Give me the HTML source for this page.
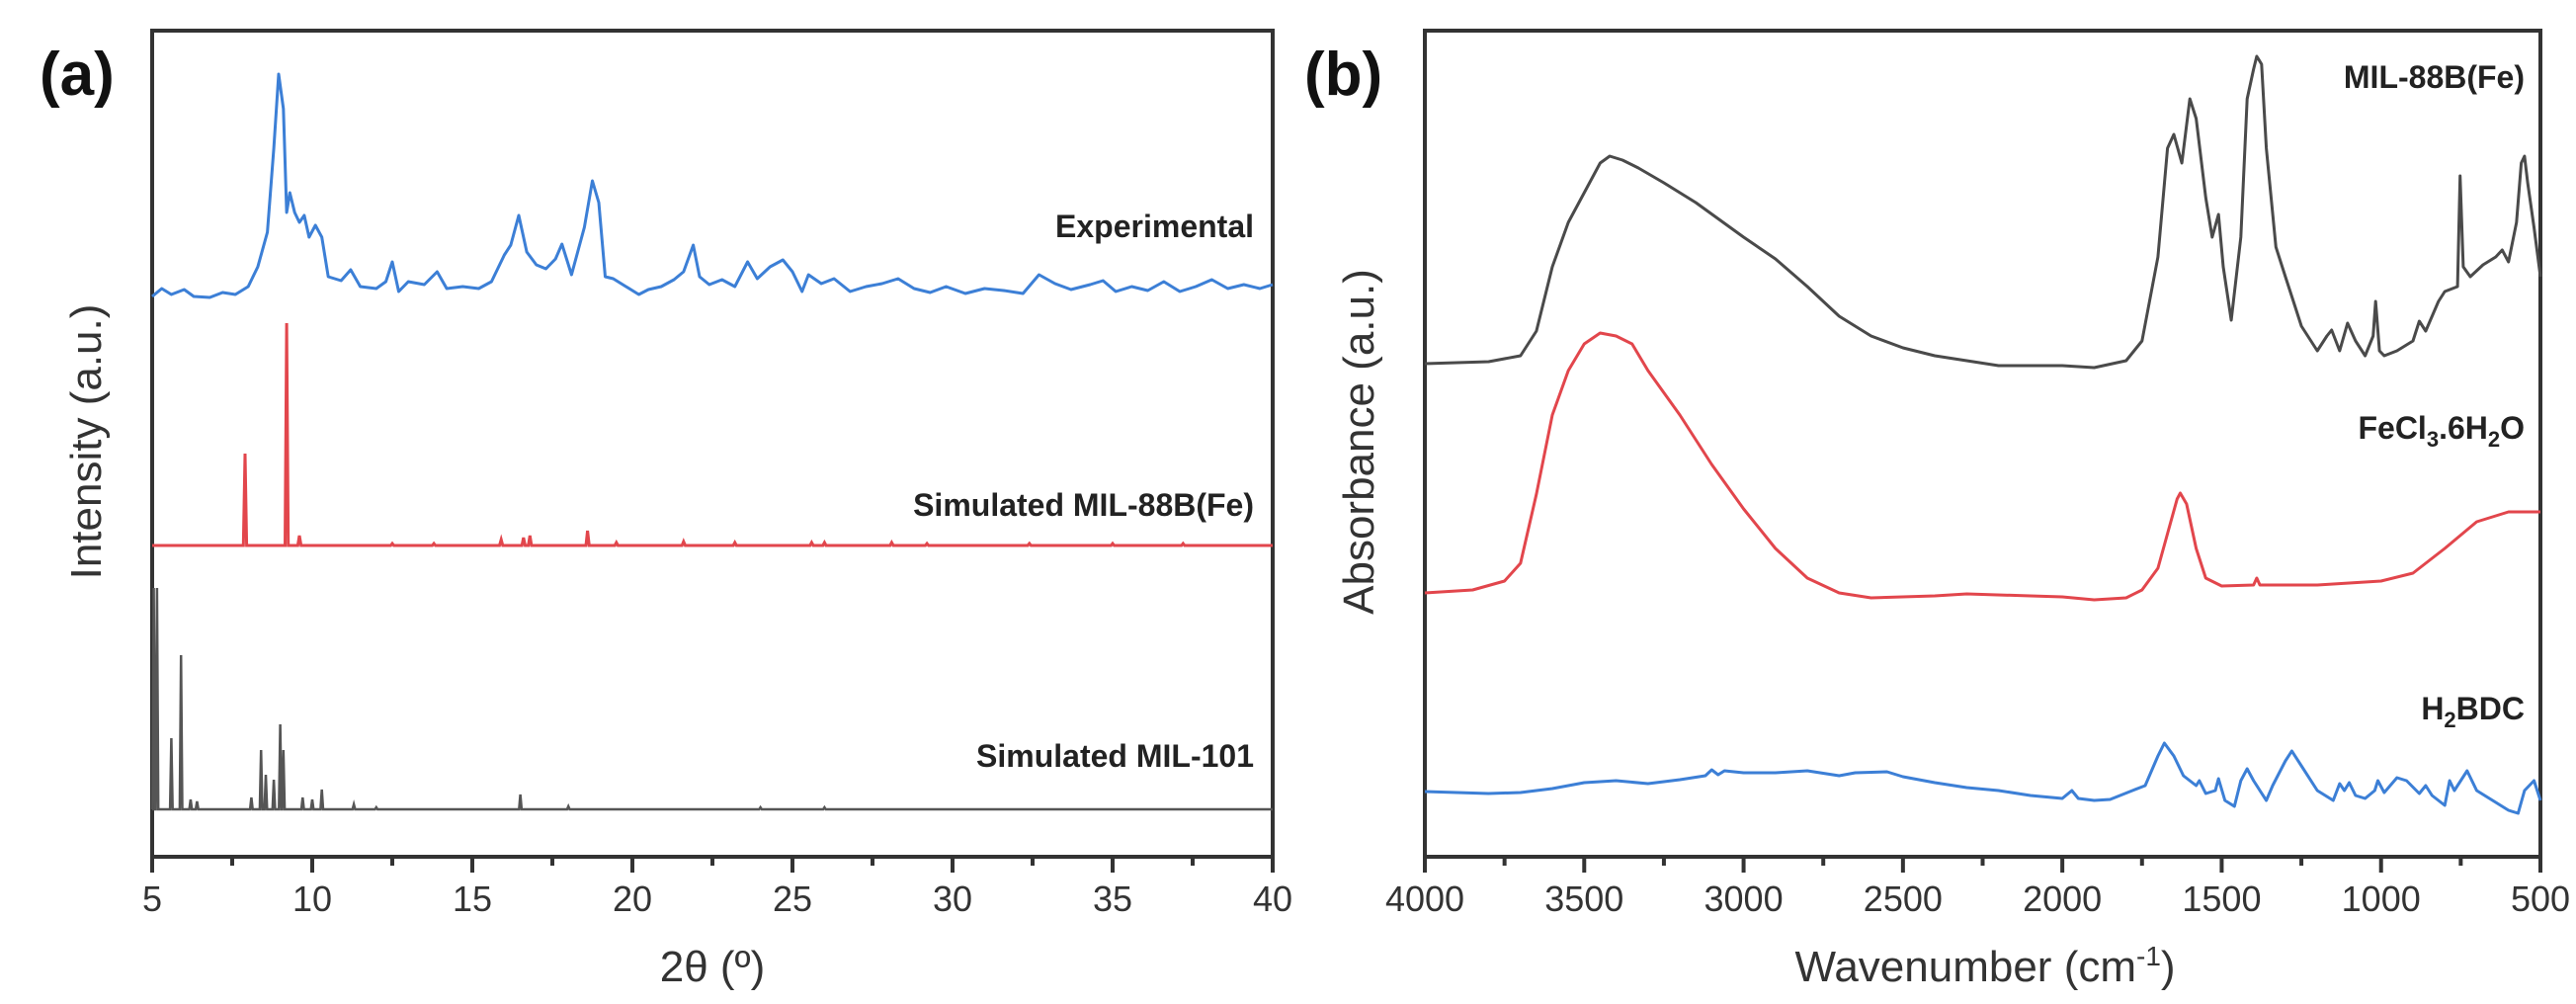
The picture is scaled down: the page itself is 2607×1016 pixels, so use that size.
<!DOCTYPE html>
<html><head><meta charset="utf-8"><style>
html,body{margin:0;padding:0;background:#fff;}
svg{display:block;}
text{font-family:"Liberation Sans",sans-serif;fill:#222;}
.lbl{font-family:"Liberation Sans Narrow","Liberation Sans",sans-serif;font-weight:bold;font-size:32px;}
.tick{font-size:36px;fill:#333;}
.ttl{font-size:44px;fill:#333;}
.pan{font-weight:bold;font-size:62px;fill:#111;}
</style></head><body>
<svg id="fig" width="2607" height="1016" viewBox="0 0 2607 1016" xmlns="http://www.w3.org/2000/svg">
<g id="pa"></g>
<g id="pb"></g>
</svg>
<script>
// ---- Panel (a) XRD data (x: 2theta deg, y: intensity a.u.) ----
const xrdTicks = [5,10,15,20,25,30,35,40];
const expX = [5.0,5.3,5.6,6.0,6.3,6.8,7.2,7.6,8.0,8.3,8.6,8.8,8.95,9.1,9.2,9.3,9.45,9.6,9.75,9.9,10.1,10.3,10.5,10.9,11.2,11.5,12.0,12.3,12.5,12.7,13.0,13.5,13.9,14.2,14.7,15.2,15.6,16.0,16.2,16.45,16.7,17.0,17.3,17.6,17.8,18.1,18.5,18.75,18.95,19.15,19.4,19.8,20.2,20.5,20.9,21.3,21.6,21.9,22.1,22.4,22.8,23.2,23.6,23.9,24.3,24.7,25.0,25.3,25.5,25.9,26.3,26.8,27.3,27.8,28.3,28.8,29.3,29.8,30.4,31.0,31.6,32.2,32.7,33.2,33.7,34.3,34.7,35.1,35.6,36.1,36.6,37.1,37.6,38.1,38.6,39.1,39.6,40.0];
const expY = [567,575,569,574,567,566,571,569,577,597,632,717,792,757,652,672,652,642,649,627,639,627,587,583,594,577,575,582,602,572,582,579,592,575,577,575,582,609,619,649,612,599,595,605,620,589,637,684,662,587,585,577,569,574,577,584,592,619,587,579,584,577,602,585,597,604,592,572,589,580,585,572,577,580,585,575,571,577,570,575,573,570,589,580,574,579,583,572,577,573,582,572,577,584,575,579,575,579];
const m88X = [7.9,9.2,9.6,12.5,13.8,15.9,16.6,16.8,18.6,19.5,21.6,23.2,25.6,26.0,28.1,29.2,32.4,35.0,37.2];
const m88Y = [93,225,10,2,2,6,8,10,15,3,4,3,3,3,3,2,2,2,2];
const m101X = [5.05,5.15,5.6,5.9,6.2,6.4,8.1,8.4,8.55,8.8,9.0,9.1,9.7,10.0,10.3,11.3,12.0,16.5,18.0,24.0,26.0];
const m101Y = [224,224,72,156,10,8,12,60,35,30,86,60,12,10,20,5,2,15,3,2,2];
// ---- Panel (b) FTIR data (x: wavenumber cm-1, y: absorbance a.u.) ----
const irTicks = [4000,3500,3000,2500,2000,1500,1000,500];
const milX = [4000,3800,3700,3650,3600,3550,3500,3450,3420,3380,3330,3250,3150,3000,2900,2800,2700,2600,2500,2400,2300,2200,2000,1900,1800,1750,1700,1670,1650,1625,1600,1580,1550,1530,1510,1495,1470,1440,1420,1400,1390,1375,1360,1330,1300,1280,1250,1200,1170,1155,1130,1105,1080,1050,1025,1017,1005,990,950,900,880,860,820,800,760,752,742,720,680,640,620,600,575,560,550,540,520,500];
const milY = [499,501,507,532,597,642,672,702,709,705,697,682,662,627,605,577,547,527,515,507,502,497,497,495,502,522,607,717,731,702,767,747,667,627,650,597,543,627,767,797,810,802,717,617,587,567,537,512,527,533,512,540,522,507,527,562,512,507,512,522,542,532,562,572,577,689,597,587,599,607,614,602,642,702,709,682,637,587];
const fecX = [4000,3850,3750,3700,3650,3600,3550,3500,3450,3400,3350,3300,3200,3100,3000,2900,2800,2700,2600,2400,2300,2100,2000,1900,1800,1750,1700,1670,1640,1630,1610,1580,1550,1500,1400,1390,1380,1200,1000,900,800,700,600,500];
const fecY = [267,270,279,297,367,447,492,519,530,527,519,492,447,397,352,312,282,267,262,264,266,264,263,260,262,270,292,327,362,368,357,312,282,274,275,282,275,275,279,287,312,339,349,349];
const bdcX = [4000,3800,3700,3600,3500,3400,3300,3200,3120,3100,3080,3060,3000,2900,2800,2700,2650,2550,2500,2400,2300,2200,2100,2000,1970,1950,1900,1850,1780,1740,1700,1680,1650,1620,1580,1570,1550,1520,1510,1490,1460,1440,1420,1400,1380,1360,1340,1300,1280,1250,1200,1150,1130,1115,1100,1080,1050,1020,1010,990,950,920,880,860,840,800,785,770,730,700,660,600,570,550,520,500];
const bdcY = [66,64,65,69,75,77,74,78,82,88,83,87,85,85,87,82,85,86,81,75,70,67,62,59,67,59,57,58,67,72,102,115,102,82,72,77,64,67,79,57,51,77,89,77,67,57,72,97,107,92,67,57,74,67,75,62,59,67,77,65,80,77,64,72,62,52,77,67,87,67,59,47,44,67,77,57];

const NS='http://www.w3.org/2000/svg';
function mk(parent, tag, attrs, txt){
  const e=document.createElementNS(NS,tag);
  for(const k in attrs) e.setAttribute(k,attrs[k]);
  if(txt!==undefined) e.textContent=txt;
  parent.appendChild(e); return e;
}
const TOP=31, BOT=867;
function yS(v){ return BOT - v; }
function linePath(xs, ys, xS){ return xs.map((x,i)=>(i?'L':'M')+xS(x).toFixed(1)+' '+yS(ys[i]).toFixed(1)).join(' '); }
function stickPath(xs, hs, base, xS, w){
  let d='M'+xS(5)+' '+yS(base);
  xs.forEach((x,i)=>{ d+=' L'+xS(x-w).toFixed(1)+' '+yS(base)+' L'+xS(x).toFixed(1)+' '+yS(base+hs[i]).toFixed(1)+' L'+xS(x+w).toFixed(1)+' '+yS(base); });
  d+=' L'+xS(40)+' '+yS(base); return d;
}
function frame(g, L, R){
  const f=mk(g,'rect',{x:L,y:TOP,width:R-L,height:BOT-TOP,fill:'none',stroke:'#333','stroke-width':4});
  
  
}

// Panel a
const ga=document.getElementById('pa');
const aL=154, aR=1288;
const xA = v => aL + (v-5)/35*(aR-aL);
frame(ga,aL,aR);
const axA=mk(ga,'g',{});


for(let v=5; v<=40; v+=2.5){
  const maj = v%5===0;
  mk(axA,'line',{x1:xA(v),x2:xA(v),y1:BOT,y2:BOT+(maj?16:9),stroke:'#333','stroke-width':4});
}
xrdTicks.forEach(v=>{
  const t=mk(axA,'text',{x:xA(v),y:922,'text-anchor':'middle',class:'tick'},String(v));
  
  
});
const p1=mk(ga,'path',{d:linePath(expX,expY,xA),fill:'none',stroke:'#3c7fd6','stroke-width':3,'stroke-linejoin':'round'});


const p2=mk(ga,'path',{d:stickPath(m88X,m88Y,315,xA,0.05),fill:'none',stroke:'#e2464c','stroke-width':3});


const p3=mk(ga,'path',{d:stickPath(m101X,m101Y,48,xA,0.04),fill:'none',stroke:'#555','stroke-width':2.5});


const la=[['Experimental',240,'experimental-label'],['Simulated MIL-88B(Fe)',522,'mil-88b-label'],['Simulated MIL-101',776,'mil-101-label']];
la.forEach(a=>{ const t=mk(ga,'text',{x:1269,y:a[1],'text-anchor':'end',class:'lbl'},a[0]);
  
   });
const ya=mk(ga,'text',{x:0,y:0,transform:'translate(102,447) rotate(-90)','text-anchor':'middle',class:'ttl'},'Intensity (a.u.)');


const xa=mk(ga,'text',{x:721,y:993,'text-anchor':'middle',class:'ttl'},'2θ (º)');


const pa=mk(ga,'text',{x:40,y:96,class:'pan'},'(a)');



// Panel b
const gb=document.getElementById('pb');
const bL=1442, bR=2571;
const xB = v => bL + (4000-v)/3500*(bR-bL);
frame(gb,bL,bR);
const axB=mk(gb,'g',{});


for(let v=4000; v>=500; v-=250){
  const maj = v%500===0;
  mk(axB,'line',{x1:xB(v),x2:xB(v),y1:BOT,y2:BOT+(maj?16:9),stroke:'#333','stroke-width':4});
}
irTicks.forEach(v=>{
  const t=mk(axB,'text',{x:xB(v),y:922,'text-anchor':'middle',class:'tick'},String(v));
  
  
});
const q1=mk(gb,'path',{d:linePath(milX,milY,xB),fill:'none',stroke:'#4a4a4a','stroke-width':3,'stroke-linejoin':'round'});


const q2=mk(gb,'path',{d:linePath(fecX,fecY,xB),fill:'none',stroke:'#e2464c','stroke-width':3,'stroke-linejoin':'round'});


const q3=mk(gb,'path',{d:linePath(bdcX,bdcY,xB),fill:'none',stroke:'#3c7fd6','stroke-width':3,'stroke-linejoin':'round'});


const t1=mk(gb,'text',{x:2555,y:89,'text-anchor':'end',class:'lbl'},'MIL-88B(Fe)');


const t2=mk(gb,'text',{x:2555,y:444,'text-anchor':'end',class:'lbl'});


t2.innerHTML='FeCl<tspan font-size="22" dy="8">3</tspan><tspan dy="-8">.6H</tspan><tspan font-size="22" dy="8">2</tspan><tspan dy="-8">O</tspan>';
const t3=mk(gb,'text',{x:2555,y:728,'text-anchor':'end',class:'lbl'});


t3.innerHTML='H<tspan font-size="22" dy="8">2</tspan><tspan dy="-8">BDC</tspan>';
const yb=mk(gb,'text',{x:0,y:0,transform:'translate(1390,447) rotate(-90)','text-anchor':'middle',class:'ttl'},'Absorbance (a.u.)');


const xb=mk(gb,'text',{x:2009,y:993,'text-anchor':'middle',class:'ttl'});


xb.innerHTML='Wavenumber (cm<tspan font-size="28" dy="-16">-1</tspan><tspan dy="16">)</tspan>';
const pb=mk(gb,'text',{x:1320,y:96,class:'pan'},'(b)');


</script>
</body></html>
